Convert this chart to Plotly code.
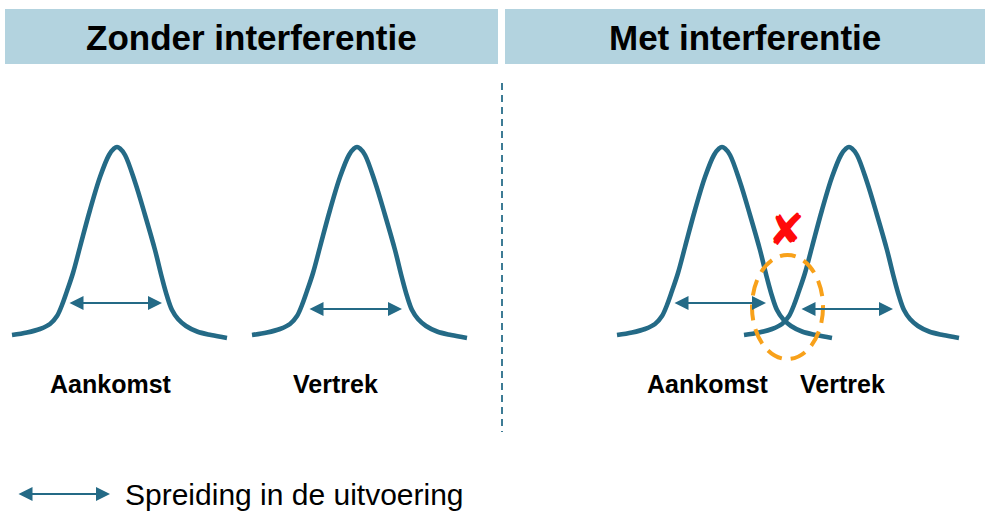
import plotly.graph_objects as go

# ---------------- data ----------------
panel_titles = ["Zonder interferentie", "Met interferentie"]
panel_title_x = [251, 745]

curve_labels = ["Aankomst", "Vertrek", "Aankomst", "Vertrek"]
curve_label_x = [111, 335, 708, 842]
curve_peaks = [117, 357, 722, 849]

# bell profile (horizontal offset from the peak, vertical level)
profile_dx = [-105, -90, -77, -67, -60, -55, -50, -44, -37, -27, -17, -8, -3, 0, 3, 8, 18, 28, 38, 45, 50, 55, 61, 69, 80, 94, 110]
profile_y = [335, 332.5, 329, 324, 316, 305, 291, 273, 247, 210, 177, 155, 148.5, 147, 148.5, 155, 182, 215, 250, 278, 296, 310, 319, 326, 331.5, 335, 338]

# spread arrows (left tip, right tip, level)
spread_left = [68, 308, 673, 800]
spread_right = [162, 402, 766, 893]
spread_level = [303, 309, 303, 309]

legend_text = "Spreiding in de uitvoering"
legend_arrow = [17, 110]
legend_level = 494

conflict_zone = dict(x0=752, x1=823, y0=255, y1=359)
conflict_mark = dict(x=786, y=229)

# ---------------- styles ----------------
W, H = 985, 512
CURVE = "#246a86"
HEADER = "#b3d3df"
ORANGE = "#f8a11a"
FONT = "Liberation Sans, Arial, sans-serif"

fig = go.Figure()

for cx in curve_peaks:
    fig.add_trace(go.Scatter(
        x=[cx + d for d in profile_dx], y=profile_y,
        mode="lines", line=dict(color=CURVE, width=4.6, shape="spline", smoothing=1.0),
        hoverinfo="skip", showlegend=False))

shapes = []
# header boxes
shapes.append(dict(type="rect", xref="x", yref="y", x0=5, x1=498, y0=9, y1=64,
                   fillcolor=HEADER, line=dict(width=0), layer="below"))
shapes.append(dict(type="rect", xref="x", yref="y", x0=505, x1=985, y0=9, y1=64,
                   fillcolor=HEADER, line=dict(width=0), layer="below"))
# divider
shapes.append(dict(type="line", xref="x", yref="y", x0=502, x1=502, y0=83, y1=432,
                   line=dict(color="#3d7b95", width=2, dash="7px,5px")))
# conflict ellipse
shapes.append(dict(type="circle", xref="x", yref="y", **conflict_zone,
                   line=dict(color=ORANGE, width=4, dash="16px,9px")))

annotations = []
for t, x in zip(panel_titles, panel_title_x):
    annotations.append(dict(x=x, y=37, xref="x", yref="y", text=f"<b>{t}</b>", showarrow=False,
                            font=dict(family=FONT, size=35, color="#000000"),
                            xanchor="center", yanchor="middle"))
for t, x in zip(curve_labels, curve_label_x):
    annotations.append(dict(x=x, y=384, xref="x", yref="y", text=f"<b>{t}</b>", showarrow=False,
                            font=dict(family=FONT, size=25, color="#000000"),
                            xanchor="center", yanchor="middle"))

def arrow(x0, x1, y):
    return dict(x=x1, y=y, ax=x0, ay=y, xref="x", yref="y", axref="x", ayref="y",
                text="", showarrow=True, arrowhead=2, startarrowhead=2,
                arrowside="end+start", arrowwidth=2, arrowsize=1.4, startarrowsize=1.4,
                arrowcolor=CURVE, standoff=0, startstandoff=0)

for l, r, y in zip(spread_left, spread_right, spread_level):
    annotations.append(arrow(l, r, y))

annotations.append(arrow(legend_arrow[0], legend_arrow[1], legend_level))
annotations.append(dict(x=123, y=legend_level, xref="x", yref="y", text=legend_text, showarrow=False,
                        font=dict(family=FONT, size=30, color="#000000"),
                        xanchor="left", yanchor="middle"))

annotations.append(dict(x=conflict_mark["x"], y=conflict_mark["y"], xref="x", yref="y", text="✘",
                        showarrow=False, font=dict(family="DejaVu Sans", size=44, color="#ff0a0a"),
                        xanchor="center", yanchor="middle"))

fig.update_layout(
    width=W, height=H, margin=dict(l=0, r=0, t=0, b=0),
    paper_bgcolor="white", plot_bgcolor="white",
    xaxis=dict(range=[0, W], visible=False, fixedrange=True),
    yaxis=dict(range=[H, 0], visible=False, fixedrange=True),
    shapes=shapes, annotations=annotations, showlegend=False,
)

fig.write_html("out.html", config={"displayModeBar": False},
               post_script="document.body.style.margin='0';document.body.style.overflow='hidden';")
